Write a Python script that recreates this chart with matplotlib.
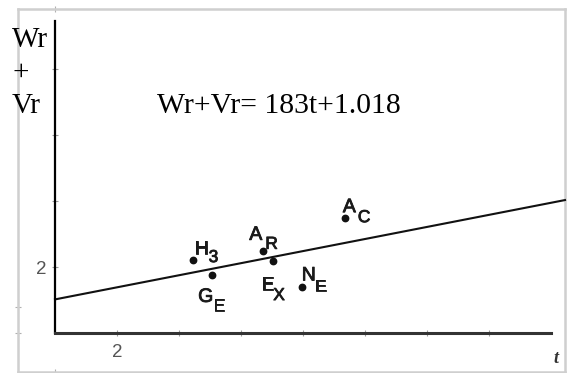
import matplotlib
matplotlib.use("Agg")
import matplotlib.pyplot as plt
import matplotlib.patheffects as pe

# fitted line  Wr+Vr = a*t + b
slope = 0.183
intercept = 1.018

# samples
names = ["H", "G", "A", "E", "N", "A"]
subs = ["3", "E", "R", "X", "E", "C"]
t_vals = [4.44, 5.07, 6.72, 7.04, 7.96, 9.35]
wv_vals = [2.21, 1.76, 2.49, 2.18, 1.38, 3.48]

x_ticks = [2, 4, 6, 8, 10, 12, 14]
y_ticks = [2, 4, 6, 8]
tick_labels_x = ["2", "", "", "", "", "", ""]
tick_labels_y = ["2", "", "", ""]

# label offsets in pixels: (dx, dy) for letter, then for subscript
letter_off = [(2, 6), (-14, -27), (-14, 11), (-12, -29), (0, 7), (-2, 6)]
sub_off = [(16, -2), (1, -36), (2, 2), (0, -39), (13, -4), (13, -4)]

W, H = 567, 373
fig = plt.figure(figsize=(W / 100, H / 100), dpi=100)


def px_rect(x0, y0, x1, y1):
    return [x0 / W, 1 - y1 / H, (x1 - x0) / W, (y1 - y0) / H]


# faint outer frame
outer = fig.add_axes(px_rect(18, 9, 565, 372))
outer.set_xlim(18, 565)
outer.set_ylim(372, 9)
for s in outer.spines.values():
    s.set_color("#cfcfcf")
    s.set_linewidth(1.8)
outer.set_xticks([55])
outer.set_yticks([307, 333])
outer.tick_params(direction="inout", length=4, color="#b0b0b0",
                  labelbottom=False, labelleft=False, top=True)
outer.set_facecolor("white")

# main axes
ax = fig.add_axes(px_rect(55, 21, 565, 333))
ax.patch.set_alpha(0)
ax.set_xlim(0, 510 / 31)
ax.set_ylim(0, 312 / 33)
ax.spines["top"].set_visible(False)
ax.spines["right"].set_visible(False)
ax.spines["left"].set_linewidth(1.6)
ax.spines["bottom"].set_linewidth(2.2)
ax.spines["bottom"].set_color("#333333")
ax.spines["bottom"].set_bounds(0, 16)

ax.set_xticks(x_ticks)
ax.set_xticklabels(tick_labels_x)
ax.set_yticks(y_ticks)
ax.set_yticklabels(tick_labels_y)
ax.tick_params(direction="inout", length=4, color="#999999", labelcolor="#555555",
               labelsize=13.5)
ax.tick_params(axis="x", pad=6)
ax.tick_params(axis="y", pad=4)
for lab in ax.get_xticklabels() + ax.get_yticklabels():
    lab.set_family("Liberation Sans")

tt = [0, 510 / 31]
ax.plot(tt, [slope * t + intercept for t in tt], color="#111111", lw=1.5,
        clip_on=False)
ax.plot(t_vals, wv_vals, "o", color="#111111", ms=4.6, clip_on=False)

thick = [pe.withStroke(linewidth=0.6, foreground="#1a1a1a")]
for i in range(len(names)):
    ax.annotate(names[i], (t_vals[i], wv_vals[i]), xytext=letter_off[i],
                textcoords="offset pixels", family="Liberation Sans", fontsize=14,
                color="#1a1a1a", ha="left", va="baseline", path_effects=thick)
    ax.annotate(subs[i], (t_vals[i], wv_vals[i]), xytext=sub_off[i],
                textcoords="offset pixels", family="Liberation Sans", fontsize=12.5,
                color="#1a1a1a", ha="left", va="baseline", path_effects=thick)

serif = "Liberation Serif"
fig.text(12 / W, 1 - 47 / H, "Wr", family=serif, fontsize=21, ha="left", va="baseline")
fig.text(12 / W, 1 - 80 / H, "+", family=serif, fontsize=21, ha="left", va="baseline")
fig.text(12 / W, 1 - 113 / H, "Vr", family=serif, fontsize=21, ha="left", va="baseline")
fig.text(157 / W, 1 - 113 / H, "Wr+Vr= 183t+1.018", family=serif, fontsize=21.3,
         ha="left", va="baseline")
fig.text(553 / W, 1 - 363 / H, "t", family=serif, fontsize=13, style="italic",
         weight="bold", color="#333333", ha="left", va="baseline")

fig.savefig("out.png", dpi=100)
